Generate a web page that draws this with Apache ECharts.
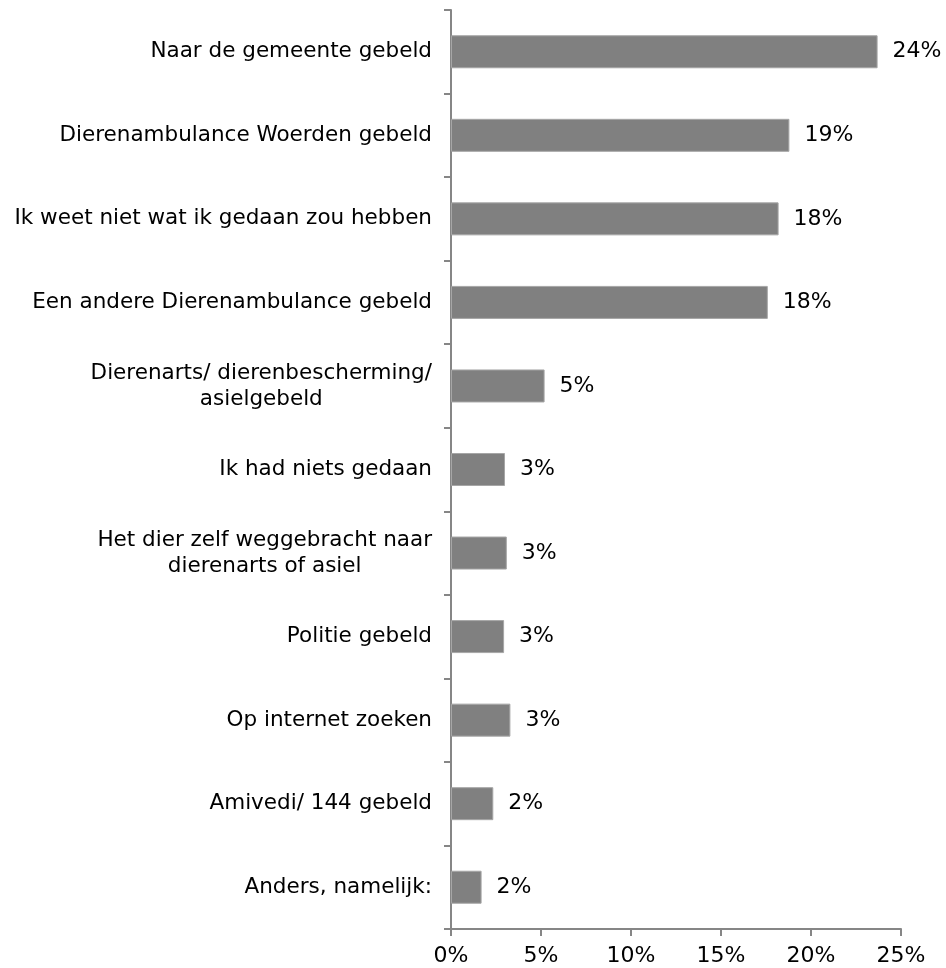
<!DOCTYPE html>
<html>
<head>
<meta charset="utf-8">
<script src="https://cdn.jsdelivr.net/npm/echarts@6/dist/echarts.min.js"></script>
<style>
  html, body { margin: 0; padding: 0; background: #fff; }
  #chart { width: 946px; height: 968px; }
</style>
</head>
<body>
<div id="chart"></div>
<script>
// categories (top to bottom)
const categories = [
  'Naar de gemeente gebeld',
  'Dierenambulance Woerden gebeld',
  'Ik weet niet wat ik gedaan zou hebben',
  'Een andere Dierenambulance gebeld',
  'Dierenarts/ dierenbescherming/\nasielgebeld',
  'Ik had niets gedaan',
  'Het dier zelf weggebracht naar\ndierenarts of asiel',
  'Politie gebeld',
  'Op internet zoeken',
  'Amivedi/ 144 gebeld',
  'Anders, namelijk:'
];
// percentages
const values = [23.7, 18.8, 18.2, 17.6, 5.2, 3.0, 3.1, 2.95, 3.3, 2.35, 1.7];
const xTicks = [0, 5, 10, 15, 20, 25];

const chart = echarts.init(document.getElementById('chart'));

const font = 'DejaVu Sans';
const axisColor = '#868686';

const option = {
  animation: false,
  grid: { left: 451, right: 45, top: 10, bottom: 39 },
  xAxis: {
    type: 'value',
    min: xTicks[0],
    max: xTicks[xTicks.length - 1],
    interval: 5,
    splitLine: { show: false },
    axisLine: { show: true, lineStyle: { color: axisColor, width: 2 } },
    axisTick: { show: true, length: 7, lineStyle: { color: axisColor, width: 2 } },
    axisLabel: {
      formatter: '{value}%',
      color: '#000',
      fontFamily: font,
      fontSize: 22,
      margin: 16
    }
  },
  yAxis: {
    type: 'category',
    inverse: true,
    data: categories,
    axisLine: { show: true, lineStyle: { color: axisColor, width: 2 } },
    axisTick: { show: true, length: 7, lineStyle: { color: axisColor, width: 2 } },
    axisLabel: {
      color: '#000',
      fontFamily: font,
      fontSize: 21.5,
      margin: 19,
      formatter: (v) => v.split('\n').map(s => '{c|' + s + '}').join('\n'),
      rich: {
        c: { align: 'center', fontFamily: font, fontSize: 21.5, color: '#000', lineHeight: 26 }
      }
    }
  },
  series: [{
    type: 'bar',
    data: values,
    barWidth: 33,
    itemStyle: { color: '#808080', borderColor: '#a6a6a6', borderWidth: 1 },
    label: {
      show: true,
      position: 'right',
      distance: 15,
      color: '#000',
      fontFamily: font,
      fontSize: 22,
      formatter: (p) => Math.round(p.value) + '%'
    }
  }]
};

chart.setOption(option);
</script>
</body>
</html>
